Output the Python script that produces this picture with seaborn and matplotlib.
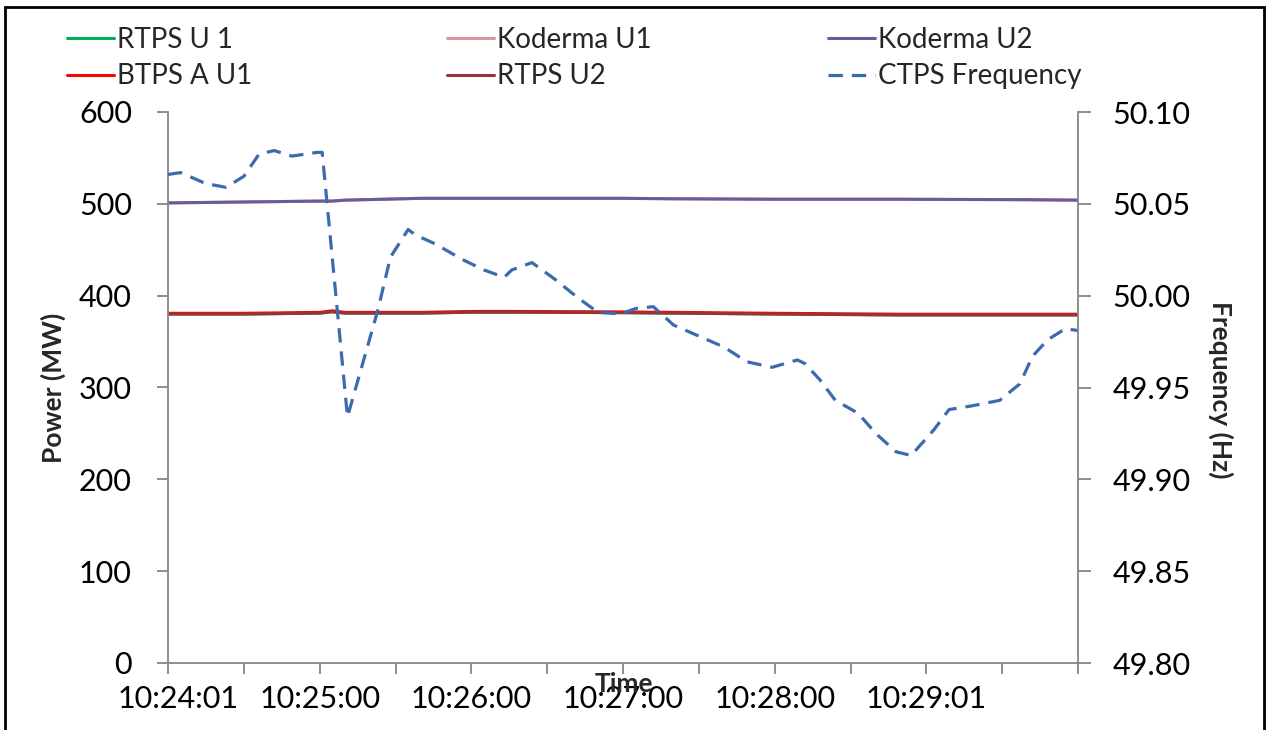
import numpy as np
import pandas as pd
import seaborn as sns
import matplotlib.pyplot as plt
from matplotlib.patches import Rectangle
from matplotlib.transforms import ScaledTranslation

sns.set_style("white")
plt.rcParams['font.family'] = ['Lato', 'DejaVu Sans']

# tempo em segundos a partir de 10:24:01
t_power = [0, 30, 60, 65, 70, 100, 120, 140, 180, 200, 240, 290, 340, 360]
rtps_u1 = [380, 380, 381, 382.5, 381, 381, 382, 382, 381.5, 381, 380, 379, 379, 379]
koderma_u1 = [501, 502, 503, 503, 504, 506, 506, 506, 506, 505.5, 505, 505, 504.5, 504]
koderma_u2 = [501, 502, 503, 503, 504, 506, 506, 506, 506, 505.5, 505, 505, 504.5, 504]
btps_a_u1 = [380.8, 380.8, 381.8, 383.5, 381.8, 381.8, 382.8, 382.8, 382.3, 381.8, 380.8, 379.8, 379.8, 379.8]
rtps_u2 = [380, 380, 381, 382.5, 381, 381, 382, 382, 381.5, 381, 380, 379, 379, 379]

t_freq = [0, 5, 15, 23, 30, 36, 42, 49, 59, 61, 71, 77, 83, 88, 95, 98, 106, 116,
          125, 133, 136, 144, 153, 162, 170, 179, 185, 192, 200, 210, 220, 229, 239,
          249, 252, 258, 264, 273, 280, 288, 294, 303, 309, 318, 329, 337, 342, 348,
          355, 360]
ctps_freq = [50.066, 50.067, 50.061, 50.059, 50.065, 50.077, 50.079, 50.076, 50.078,
             50.078, 49.934, 49.963, 49.992, 50.021, 50.036, 50.033, 50.028, 50.020,
             50.014, 50.010, 50.014, 50.018, 50.009, 49.999, 49.991, 49.990, 49.993,
             49.994, 49.984, 49.978, 49.972, 49.964, 49.961, 49.965, 49.963, 49.954,
             49.943, 49.936, 49.925, 49.915, 49.913, 49.927, 49.938, 49.940, 49.943,
             49.952, 49.967, 49.976, 49.982, 49.981]

tick_pos = [0, 60, 120, 180, 240, 300]
tick_labels = ["10:24:01", "10:25:00", "10:26:00", "10:27:00", "10:28:00", "10:29:01"]

series = [
    ("RTPS U 1", rtps_u1, "#00B050"),
    ("Koderma U1", koderma_u1, "#D9959B"),
    ("Koderma U2", koderma_u2, "#6B5B9E"),
    ("BTPS A U1", btps_a_u1, "#FF0000"),
    ("RTPS U2", rtps_u2, "#9B3335"),
]

fig = plt.figure(figsize=(12.68, 7.30), dpi=100)
ax = fig.add_axes([168/1268, 1-663/730, 910/1268, 551/730])
ax2 = ax.twinx()

for nome, vals, cor in series:
    sns.lineplot(x=t_power, y=vals, ax=ax, color=cor, linewidth=2.2, label=nome)

sns.lineplot(x=t_freq, y=ctps_freq, ax=ax2, color="#3C6AAE", linewidth=2.3, label="CTPS Frequency")
ax2.get_lines()[0].set_dashes([4.5, 2.8])

h1, l1 = ax.get_legend_handles_labels()
h2, l2 = ax2.get_legend_handles_labels()
ax.get_legend().remove()
ax2.get_legend().remove()
hs = h1 + h2
ls = l1 + l2

ax.set_xlim(0, 360)
ax.set_ylim(0, 600)
ax2.set_ylim(49.80, 50.10)
ax.set_yticks(range(0, 601, 100))
ax2.set_yticks([49.80, 49.85, 49.90, 49.95, 50.00, 50.05, 50.10])
ax2.set_yticklabels(["49.80", "49.85", "49.90", "49.95", "50.00", "50.05", "50.10"])
ax.set_xticks(range(0, 361, 30))
ax.set_xticklabels([tick_labels[tick_pos.index(t)] if t in tick_pos else "" for t in range(0, 361, 30)])

cinza = "#868686"
for a in (ax, ax2):
    a.set_xlabel("")
    a.set_ylabel("")
    for s in a.spines.values():
        s.set_color(cinza)
        s.set_linewidth(1.3)
    a.spines["top"].set_visible(False)
ax.spines["right"].set_visible(False)
ax2.spines["left"].set_visible(False)
ax2.spines["bottom"].set_visible(False)

ax.tick_params(axis="y", left=True, direction="out", length=8, width=1.3, color=cinza,
               labelsize=22, pad=18, labelcolor="black")
ax.tick_params(axis="x", bottom=True, direction="out", length=8, width=1.3, color=cinza,
               labelsize=22, pad=8, labelcolor="black")
ax2.tick_params(axis="y", right=True, direction="out", length=9, width=1.3, color=cinza,
                labelsize=22, pad=16, labelcolor="black")
# primeiro rotulo deslocado como no Excel
ax.get_xticklabels()[0].set_transform(ax.get_xticklabels()[0].get_transform() +
                                      ScaledTranslation(10/100, 0, fig.dpi_scale_trans))

# rotulos dos eixos
fig.text(53/1268, 1-388/730, "Power (MW)", rotation=90, ha="center", va="center",
         fontsize=19, fontweight="bold")
fig.text(1221/1268, 1-390/730, "Frequency (Hz)", rotation=270, ha="center", va="center",
         fontsize=19, fontweight="bold")
fig.text(624/1268, 1-684/730, "Time", ha="center", va="center", fontsize=19, fontweight="bold")

# legenda em tres colunas
for i, x0 in enumerate([67, 447, 828]):
    idx = [i, i + 3]
    fig.legend([hs[j] for j in idx], [ls[j] for j in idx], loc="upper left",
               bbox_to_anchor=(x0/1268, 1-27/730), frameon=False, fontsize=20,
               borderpad=0, borderaxespad=0, handlelength=1.7, handletextpad=0.1,
               labelspacing=0.37)

fig.add_artist(Rectangle((5/1268, -0.01), 1259/1268, 1.01-7/730, transform=fig.transFigure,
                         fill=False, edgecolor="black", linewidth=2))

plt.savefig("out.png", dpi=100)
